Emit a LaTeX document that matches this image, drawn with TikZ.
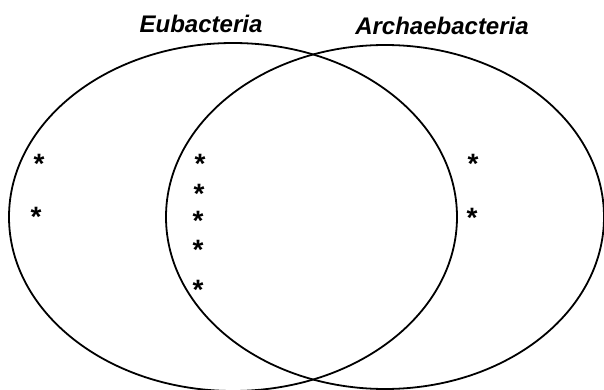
\documentclass[tikz,border=0pt]{standalone}
\usepackage{fontspec}
\setmainfont{Liberation Sans}
\usetikzlibrary{shapes.geometric}

\begin{document}
\begin{tikzpicture}[x=1pt, y=-1pt,
    set/.style={draw, ellipse, line width=1.8pt, inner sep=0pt},
    setname/.style={font=\bfseries\itshape\fontsize{24}{24}\selectfont, anchor=base, inner sep=0pt},
    astx/.style={font=\bfseries\fontsize{28}{28}\selectfont, anchor=base, inner sep=0pt, yshift=-16pt}]
    \useasboundingbox (0,0) rectangle (604,390);
    % The two overlapping sets
    \node[set, minimum width=448pt, minimum height=348pt] (eub) at (233,217) {};
    \node[set, minimum width=438pt, minimum height=344pt] (arch) at (385,217) {};
    % Set names
    \node[setname] (eubname) at (201,33) {Eubacteria};
    \node[setname] (archname) at (442,35) {Archaebacteria};
    % Marks inside the regions
    \foreach \px/\py [count=\i] in {39/157, 36/210, 200/157, 199/187, 198/214, 198/243, 198/283, 473/157, 472/211}
        \node[astx] (mark\i) at (\px,\py) {*};
\end{tikzpicture}
\end{document}
